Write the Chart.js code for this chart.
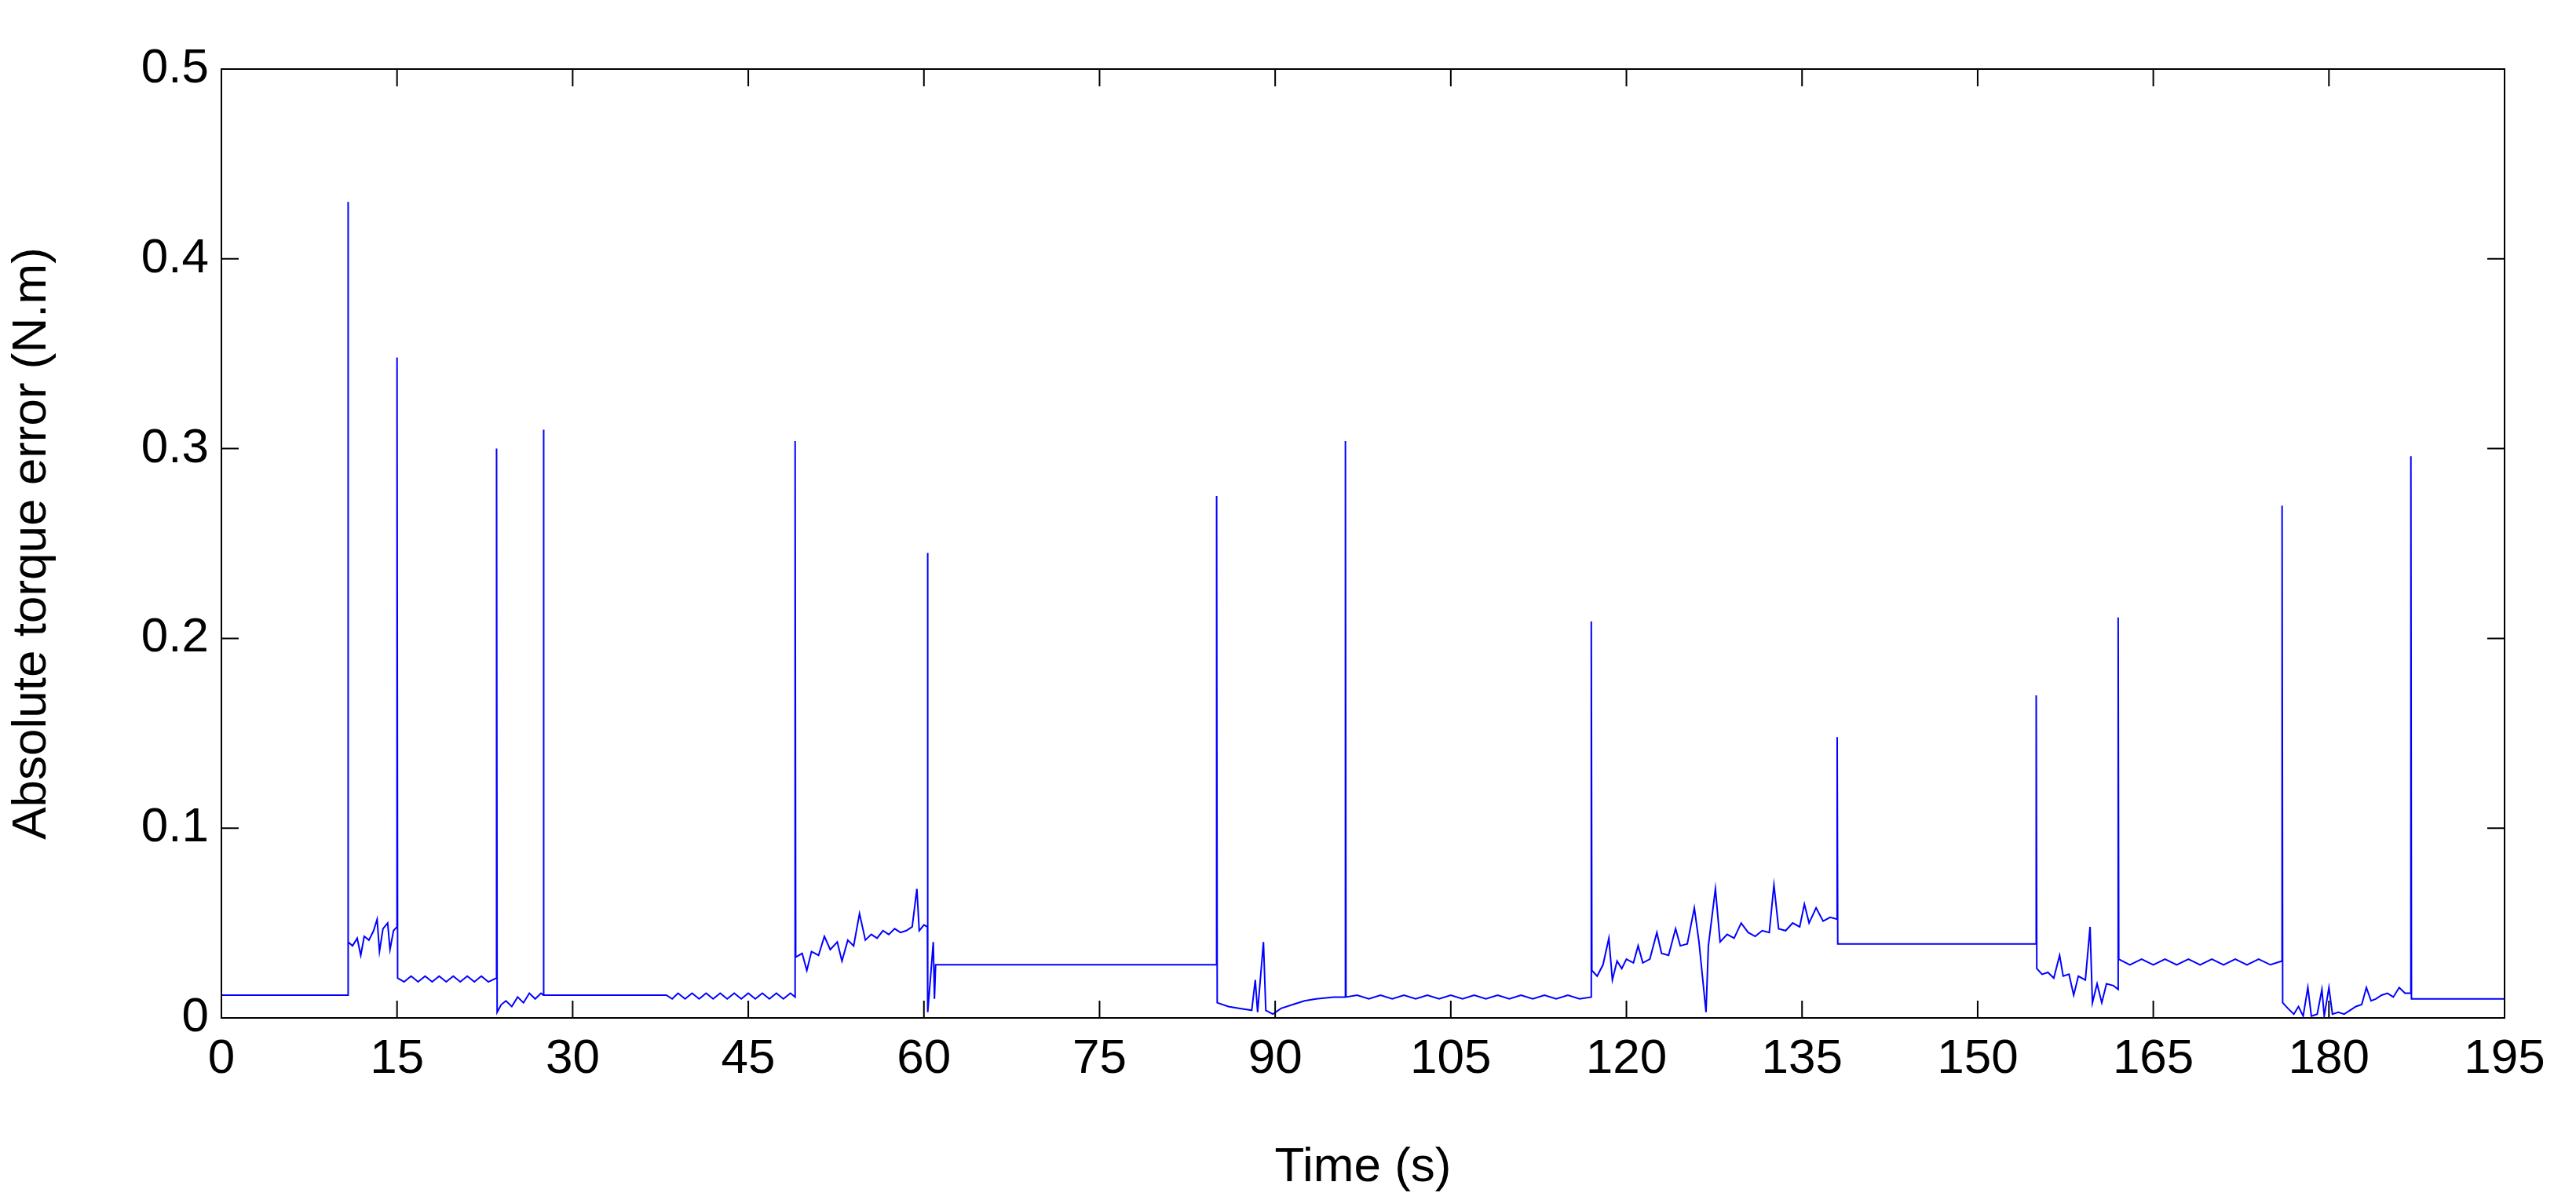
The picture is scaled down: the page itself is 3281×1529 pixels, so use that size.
<!DOCTYPE html>
<html><head><meta charset="utf-8">
<script src="https://cdn.jsdelivr.net/npm/chart.js@4.4.1/dist/chart.umd.min.js"></script>
<style>html,body{margin:0;padding:0;background:#fff}#wrap{width:3281px;height:1529px}</style>
</head><body><div id="wrap"><canvas id="c"></canvas></div>
<script>
const xTicks = [0,15,30,45,60,75,90,105,120,135,150,165,180,195];
const yTicks = [0,0.1,0.2,0.3,0.4,0.5];
// [time (s), absolute torque error (N.m)], one array per test phase
const seg0 = [[0,0.16],[0,0.012],[10.8,0.012]];
const seg1 = [[10.8,0.43],[10.85,0.04],[11.2,0.038],[11.6,0.042],[11.9,0.033],[12.2,0.043],[12.6,0.041],[13,0.046],[13.3,0.052],[13.5,0.035],[13.8,0.047],[14.2,0.05],[14.4,0.036],[14.7,0.046],[15,0.048]];
const seg2 = [[15,0.348],[15.05,0.021],[15.6,0.019],[16.2,0.022],[16.8,0.019],[17.4,0.022],[18,0.019],[18.6,0.022],[19.2,0.019],[19.8,0.022],[20.4,0.019],[21,0.022],[21.6,0.019],[22.2,0.022],[22.8,0.019],[23.5,0.021]];
const seg3 = [[23.5,0.3],[23.55,0.003],[23.9,0.007],[24.3,0.009],[24.8,0.006],[25.3,0.011],[25.8,0.008],[26.3,0.013],[26.8,0.01],[27.3,0.013],[27.5,0.012]];
const seg4 = [[27.5,0.31],[27.55,0.012],[33,0.012],[38,0.012],[38.5,0.01],[39,0.013],[39.6,0.01],[40.2,0.013],[40.8,0.01],[41.4,0.013],[42,0.01],[42.6,0.013],[43.2,0.01],[43.8,0.013],[44.4,0.01],[45,0.013],[45.6,0.01],[46.2,0.013],[46.8,0.01],[47.4,0.013],[48,0.01],[48.6,0.013],[49,0.011]];
const seg5 = [[49,0.304],[49.05,0.032],[49.6,0.034],[50,0.025],[50.4,0.035],[51,0.033],[51.5,0.043],[52,0.036],[52.6,0.04],[53,0.03],[53.5,0.041],[54,0.038],[54.5,0.055],[55,0.041],[55.5,0.044],[56,0.042],[56.5,0.046],[57,0.044],[57.5,0.047],[58,0.045],[58.5,0.046],[59,0.048],[59.4,0.068],[59.6,0.046],[60,0.049],[60.3,0.048]];
const seg6 = [[60.3,0.245],[60.35,0.003],[60.6,0.024],[60.8,0.04],[60.9,0.01],[61.0,0.028],[72,0.028],[85,0.028]];
const seg7 = [[85,0.275],[85.05,0.008],[86,0.006],[87,0.005],[88,0.004],[88.3,0.02],[88.5,0.003],[89,0.04],[89.2,0.004],[89.8,0.002],[90.5,0.005],[91.5,0.007],[92.5,0.009],[93.5,0.01],[95,0.011],[96,0.011]];
const seg8 = [[96,0.304],[96.05,0.011],[97,0.012],[98,0.01],[99,0.012],[100,0.01],[101,0.012],[102,0.01],[103,0.012],[104,0.01],[105,0.012],[106,0.01],[107,0.012],[108,0.01],[109,0.012],[110,0.01],[111,0.012],[112,0.01],[113,0.012],[114,0.01],[115,0.012],[116,0.01],[117,0.011]];
const seg9 = [[117,0.209],[117.05,0.025],[117.5,0.022],[118,0.028],[118.5,0.042],[118.8,0.02],[119.2,0.03],[119.6,0.026],[120,0.031],[120.6,0.029],[121,0.038],[121.4,0.029],[122,0.031],[122.6,0.045],[123,0.034],[123.6,0.033],[124.2,0.047],[124.6,0.038],[125.2,0.039],[125.8,0.058],[126.2,0.04],[126.8,0.003],[127,0.038],[127.6,0.068],[128,0.04],[128.6,0.044],[129.2,0.042],[129.8,0.05],[130.4,0.045],[131,0.043],[131.6,0.046],[132.2,0.045],[132.6,0.07],[133,0.047],[133.6,0.046],[134.2,0.05],[134.8,0.048],[135.2,0.06],[135.6,0.05],[136.2,0.058],[136.8,0.051],[137.4,0.053],[138,0.052]];
const seg10 = [[138,0.148],[138.05,0.039],[150,0.039],[155,0.039]];
const seg11 = [[155,0.17],[155.05,0.026],[155.5,0.023],[156,0.024],[156.5,0.021],[157,0.033],[157.3,0.022],[157.8,0.023],[158.2,0.012],[158.6,0.022],[159.2,0.02],[159.6,0.048],[159.8,0.008],[160.2,0.018],[160.6,0.008],[161,0.018],[161.6,0.017],[162,0.015]];
const seg12 = [[162,0.211],[162.05,0.031],[163,0.028],[164,0.031],[165,0.028],[166,0.031],[167,0.028],[168,0.031],[169,0.028],[170,0.031],[171,0.028],[172,0.031],[173,0.028],[174,0.031],[175,0.028],[176,0.03]];
const seg13 = [[176,0.27],[176.05,0.008],[176.5,0.005],[177,0.002],[177.4,0.006],[177.8,0.001],[178.2,0.016],[178.5,0.001],[179,0.002],[179.4,0.015],[179.6,0.001],[180,0.016],[180.3,0.002],[180.8,0.003],[181.3,0.002],[181.8,0.004],[182.3,0.006],[182.8,0.007],[183.2,0.016],[183.6,0.009],[184,0.01],[184.5,0.012],[185,0.013],[185.5,0.011],[186,0.016],[186.5,0.013],[187,0.013]];
const seg14 = [[187,0.296],[187.05,0.01],[195,0.01]];
const segments = [seg0,seg1,seg2,seg3,seg4,seg5,seg6,seg7,seg8,seg9,seg10,seg11,seg12,seg13,seg14];
const pts = segments.flat().map(([t,v])=>({x:t,y:v}));
const frame = {
  id:'frame',
  afterDatasetsDraw(ch){
    const {ctx, chartArea:a, scales:{x,y}} = ch;
    ctx.save(); ctx.strokeStyle='#000'; ctx.lineWidth=2;
    ctx.strokeRect(a.left,a.top,a.right-a.left,a.bottom-a.top);
    ctx.beginPath();
    xTicks.forEach(v=>{const p=x.getPixelForValue(v);
      ctx.moveTo(p,a.bottom);ctx.lineTo(p,a.bottom-22);ctx.moveTo(p,a.top);ctx.lineTo(p,a.top+22);});
    yTicks.forEach(v=>{const p=y.getPixelForValue(v);
      ctx.moveTo(a.left,p);ctx.lineTo(a.left+22,p);ctx.moveTo(a.right,p);ctx.lineTo(a.right-22,p);});
    ctx.stroke(); ctx.restore();
  }
};
const F = {family:'Liberation Sans',size:62};
new Chart(document.getElementById('c'),{
  type:'line',
  data:{datasets:[{data:pts,borderColor:'#0000ff',borderWidth:2,pointRadius:0,tension:0,fill:false}]},
  options:{
    responsive:true,maintainAspectRatio:false,animation:false,
    layout:{padding:{left:0,top:88,right:91,bottom:0}},
    plugins:{legend:{display:false},tooltip:{enabled:false}},
    scales:{
      x:{type:'linear',min:0,max:195,
        afterBuildTicks:s=>{s.ticks=xTicks.map(v=>({value:v}));},
        afterFit:s=>{s.height=232;},
        grid:{display:false,drawTicks:false},border:{display:false},
        ticks:{color:'#000',font:F,padding:16,maxRotation:0,autoSkip:false},
        title:{display:true,text:'Time (s)',color:'#000',font:F,padding:{top:4}}},
      y:{min:0,max:0.5,
        afterBuildTicks:s=>{s.ticks=yTicks.map(v=>({value:v}));},
        afterFit:s=>{s.width=282;},
        grid:{display:false,drawTicks:false},border:{display:false},
        ticks:{color:'#000',font:F,padding:16,callback:v=>v===0?'0':String(Math.round(v*10)/10)},
        title:{display:true,text:'Absolute torque error (N.m)',color:'#000',font:F,padding:{bottom:16}}}
    }
  },
  plugins:[frame]
});
</script></body></html>
